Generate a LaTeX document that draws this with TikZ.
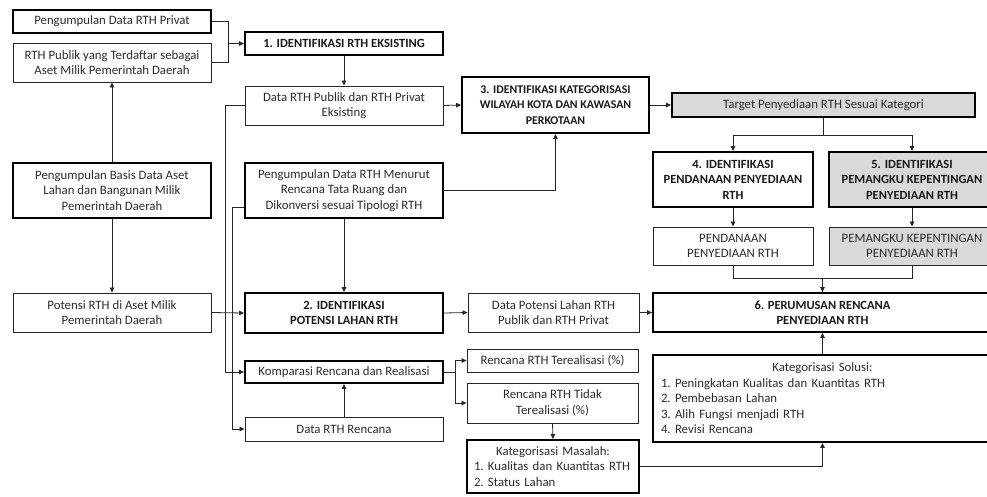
\documentclass[tikz,border=0pt]{standalone}
\usepackage{fontspec}
\setmainfont{Carlito}
\usetikzlibrary{arrows.meta,calc}
\definecolor{boxgrey}{HTML}{D9D9D9}
\definecolor{inkgrey}{HTML}{2B2B2B}
\definecolor{linegrey}{HTML}{262626}

\tikzset{
  stepbox/.style={draw=linegrey, line width=0.9pt, align=center, text=inkgrey, inner sep=2pt},
  keybox/.style={stepbox, draw=black, line width=1.9pt},
  headbox/.style={keybox, font=\fontsize{12.5}{15.5}\selectfont\bfseries, text=black!90},
  greyfill/.style={fill=boxgrey},
  wire/.style={line width=0.8pt, draw=linegrey},
  link/.style={wire, -{Triangle[length=5pt,width=4.5pt]}},
}

\begin{document}
\begin{tikzpicture}[x=1pt, y=-1pt, font=\fontsize{12.8}{15.5}\selectfont]
  \useasboundingbox (0,0) rectangle (987,496);

  \node[keybox, minimum width=198, minimum height=23] (privat) at (112,21.5) {Pengumpulan Data RTH Privat};
  \node[stepbox, minimum width=198, minimum height=39] (publik) at (112,62.5) {RTH Publik yang Terdaftar sebagai\\Aset Milik Pemerintah Daerah};
  \node[keybox, minimum width=198, minimum height=55] (basis) at (112,190.5) {Pengumpulan Basis Data Aset\\Lahan dan Bangunan Milik\\Pemerintah Daerah};
  \node[stepbox, minimum width=198, minimum height=39] (asetpot) at (112,312.5) {Potensi RTH di Aset Milik\\Pemerintah Daerah};

  \node[headbox, minimum width=198, minimum height=23] (s1) at (344,43.5) {1. IDENTIFIKASI RTH EKSISTING};
  \node[stepbox, minimum width=198, minimum height=39] (eksisting) at (344,105.5) {Data RTH Publik dan RTH Privat\\Eksisting};
  \node[keybox, minimum width=198, minimum height=55] (menurut) at (344,190.5) {Pengumpulan Data RTH Menurut\\Rencana Tata Ruang dan\\Dikonversi sesuai Tipologi RTH};
  \node[headbox, minimum width=198, minimum height=40] (s2) at (344,313) {2. IDENTIFIKASI\\POTENSI LAHAN RTH};
  \node[keybox, minimum width=198, minimum height=22] (komparasi) at (344,372) {Komparasi Rencana dan Realisasi};
  \node[stepbox, minimum width=198, minimum height=24] (rencana) at (344,429) {Data RTH Rencana};

  \node[headbox, font=\fontsize{11.8}{15.5}\selectfont\bfseries, minimum width=187, minimum height=56] (s3) at (555.5,105) {3. IDENTIFIKASI KATEGORISASI\\WILAYAH KOTA DAN KAWASAN\\PERKOTAAN};
  \node[stepbox, minimum width=171, minimum height=39] (lahan) at (553.5,312.5) {Data Potensi Lahan RTH\\Publik dan RTH Privat};
  \node[stepbox, minimum width=171, minimum height=23] (real) at (552.5,360.5) {Rencana RTH Terealisasi (\%)};
  \node[stepbox, minimum width=171, minimum height=40] (tidak) at (552.5,403) {Rencana RTH Tidak\\Terealisasi (\%)};
  \node[keybox, minimum width=172, minimum height=53, text width=158, align=left] (masalah) at (553,466.5)
       {\centering Kategorisasi Masalah:\par\raggedright
        \makebox[14pt][l]{1.}Kualitas dan Kuantitas RTH\\
        \makebox[14pt][l]{2.}Status Lahan};

  \node[keybox, greyfill, minimum width=303, minimum height=24] (target) at (823.5,105) {Target Penyediaan RTH Sesuai Kategori};
  \node[headbox, minimum width=160, minimum height=55] (s4) at (733,179.5) {4. IDENTIFIKASI\\PENDANAAN PENYEDIAAN\\RTH};
  \node[headbox, greyfill, minimum width=166, minimum height=55] (s5) at (912,179.5) {5. IDENTIFIKASI\\PEMANGKU KEPENTINGAN\\PENYEDIAAN RTH};
  \node[stepbox, minimum width=160, minimum height=38] (dana) at (733,246) {PENDANAAN\\PENYEDIAAN RTH};
  \node[stepbox, greyfill, minimum width=166, minimum height=38] (pemangku) at (912,246) {PEMANGKU KEPENTINGAN\\PENYEDIAAN RTH};
  \node[headbox, minimum width=339, minimum height=39] (s6) at (822.5,312.5) {6. PERUMUSAN RENCANA\\PENYEDIAAN RTH};
  \node[keybox, minimum width=339, minimum height=87, text width=323, align=left] (solusi) at (822.5,398.5)
       {\centering Kategorisasi Solusi:\par\raggedright
        \makebox[14pt][l]{1.}Peningkatan Kualitas dan Kuantitas RTH\\
        \makebox[14pt][l]{2.}Pembebasan Lahan\\
        \makebox[14pt][l]{3.}Alih Fungsi menjadi RTH\\
        \makebox[14pt][l]{4.}Revisi Rencana};

  \coordinate (j1) at (228,43.5);
  \coordinate (j2) at (455,372);
  \coordinate (j3) at (823.5,135);
  \coordinate (j4) at (822.5,278);

  \draw[wire] (privat.east) -| (j1);
  \draw[wire] (publik.east) -| (j1);
  \draw[link] (j1) -- (s1.west);
  \draw[link] (basis.north) -- (publik.south);
  \draw[link] (basis.south) -- (asetpot.north);
  \draw[link] (asetpot.east) -- (s2.west);

  \draw[link] (s1.south) -- (eksisting.north);
  \draw[link] (eksisting.east) -- (s3.west);
  \draw[link] (eksisting.west) -- ++(-19,0) |- (komparasi.west);
  \draw[link] ($(menurut.west)+(0,16.5)$) -- ++(-12,0) |- (rencana.west);
  \draw[link] (menurut.east) -| (s3.south);
  \draw[link] (menurut.south) -- (s2.north);
  \draw[link] (rencana.north) -- (komparasi.south);
  \draw[link] (s2.east) -- (lahan.west);
  \draw[link] (lahan.east) -- (s6.west);

  \draw[wire] (komparasi.east) -- (j2);
  \draw[link] (j2) |- (real.west);
  \draw[link] (j2) |- (tidak.west);
  \draw[link] (tidak.south) -- (masalah.north);
  \draw[link] (masalah.east) -| (solusi.south);
  \draw[link] (solusi.north) -- (s6.south);

  \draw[link] (s3.east) -- (target.west);
  \draw[wire] (target.south) -- (j3);
  \draw[link] (j3) -| (s4.north);
  \draw[link] (j3) -| (s5.north);
  \draw[link] (s4.south) -- (dana.north);
  \draw[link] (s5.south) -- (pemangku.north);
  \draw[wire] (dana.south) |- (pemangku.south |- j4) -- (pemangku.south);
  \draw[link] (j4) -- (s6.north);
\end{tikzpicture}
\end{document}
